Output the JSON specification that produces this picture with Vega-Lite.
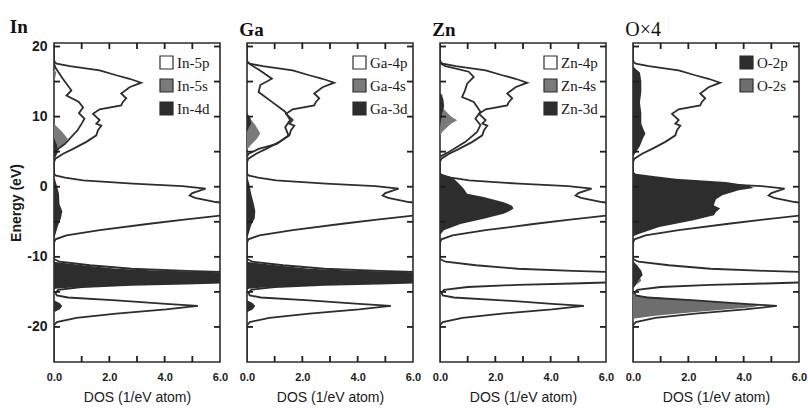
{
"$schema": "https://vega.github.io/schema/vega-lite/v6.json",
"background": "white",
"padding": {"left": 8, "top": 16, "right": 2, "bottom": 2},
"spacing": 27,
"bounds": "flush",
"resolve": {"scale": {"color": "independent"}, "legend": {"color": "independent"}},
"config": {
  "view": {"stroke": "#2d2d2d", "strokeWidth": 1.6},
  "axis": {"domain": false, "grid": false, "labelFlush": false, "labelOverlap": false},
  "tick": {"color": "#1e1e1e", "thickness": 1.8, "opacity": 1},
  "legend": {"title": null, "symbolType": "square", "symbolSize": 169, "symbolStrokeColor": "#2d2d2d", "symbolStrokeWidth": 1.2, "labelFont": "Liberation Serif", "labelFontSize": 15, "labelColor": "#1a1a1a", "labelOffset": 3, "rowPadding": 4, "padding": 0, "symbolOpacity": 1},
  "title": {"anchor": "start", "font": "Liberation Serif", "fontSize": 19, "fontWeight": "bold", "offset": 3, "color": "#111111"}
},
"datasets": {
"xticks": [{"v":1},{"v":2},{"v":3},{"v":4},{"v":5}],
"yticks": [{"v":-20},{"v":-15},{"v":-10},{"v":-5},{"v":0},{"v":5},{"v":10},{"v":15},{"v":20}],
"total": [
{"E":20.5,"dos":0},{"E":18.2,"dos":0},{"E":17.8,"dos":0.02},{"E":17.55,"dos":0.1},{"E":17.2,"dos":0.57},{"E":16.6,"dos":1.65},{"E":15.9,"dos":2.25},{"E":15.4,"dos":2.73},{"E":14.84,"dos":3.15},{"E":14.2,"dos":2.73},{"E":13.3,"dos":2.43},{"E":12.6,"dos":2.61},{"E":12.1,"dos":2.49},{"E":11.6,"dos":2.43},{"E":11.05,"dos":1.65},{"E":10.4,"dos":1.41},{"E":9.5,"dos":1.65},{"E":9.0,"dos":1.53},{"E":8.7,"dos":1.71},{"E":8.05,"dos":1.59},{"E":7.33,"dos":1.53},{"E":6.4,"dos":1.17},{"E":5.4,"dos":0.69},{"E":4.7,"dos":0.33},{"E":4.0,"dos":0.05},{"E":3.5,"dos":0},
{"E":1.9,"dos":0},{"E":1.62,"dos":0.05},{"E":1.3,"dos":0.4},{"E":0.91,"dos":1.05},{"E":0.43,"dos":2.85},{"E":0.1,"dos":4.64},{"E":-0.28,"dos":5.48},{"E":-0.9,"dos":5.0},{"E":-1.25,"dos":4.9},{"E":-1.6,"dos":5.1},{"E":-2.18,"dos":5.85},{"E":-2.6,"dos":6.8},{"E":-3.0,"dos":7.5},{"E":-3.5,"dos":7.2},{"E":-3.85,"dos":6.6},{"E":-4.1,"dos":6.08},{"E":-4.7,"dos":4.7},{"E":-5.28,"dos":3.45},{"E":-6.2,"dos":1.65},{"E":-6.93,"dos":0.45},{"E":-7.5,"dos":0.05},{"E":-8.0,"dos":0},
{"E":-10.3,"dos":0},{"E":-10.7,"dos":0.2},{"E":-11.2,"dos":1.3},{"E":-11.7,"dos":2.8},{"E":-12.0,"dos":4.8},{"E":-12.2,"dos":6.5},{"E":-12.5,"dos":9},{"E":-12.9,"dos":8},{"E":-13.3,"dos":9},{"E":-13.6,"dos":6.5},{"E":-13.8,"dos":4.8},{"E":-14.0,"dos":2.8},{"E":-14.3,"dos":1.0},{"E":-14.7,"dos":0.15},{"E":-15.1,"dos":0.05},{"E":-15.5,"dos":0.1},{"E":-15.8,"dos":0.5},{"E":-16.2,"dos":2.25},{"E":-16.7,"dos":4.05},{"E":-17.0,"dos":5.2},{"E":-17.5,"dos":4.05},{"E":-18.1,"dos":2.25},{"E":-18.7,"dos":0.81},{"E":-19.3,"dos":0.1},{"E":-19.8,"dos":0},{"E":-25,"dos":0}
],
"pdos": [
{"orb":"In-5p","E":17.6,"dos":0},{"orb":"In-5p","E":17.0,"dos":0.05},{"orb":"In-5p","E":16.4,"dos":0.15},{"orb":"In-5p","E":15.5,"dos":0.3},{"orb":"In-5p","E":14.7,"dos":0.45},{"orb":"In-5p","E":13.75,"dos":0.63},{"orb":"In-5p","E":13.0,"dos":0.45},{"orb":"In-5p","E":12.1,"dos":0.9},{"orb":"In-5p","E":11.3,"dos":1.05},{"orb":"In-5p","E":10.5,"dos":0.9},{"orb":"In-5p","E":9.7,"dos":1.1},{"orb":"In-5p","E":9.0,"dos":1.0},{"orb":"In-5p","E":8.05,"dos":0.85},{"orb":"In-5p","E":6.85,"dos":0.57},{"orb":"In-5p","E":6.1,"dos":0.39},{"orb":"In-5p","E":5.4,"dos":0.15},{"orb":"In-5p","E":4.7,"dos":0.02},{"orb":"In-5p","E":4.2,"dos":0},

{"orb":"In-5s","E":20.5,"dos":0},{"orb":"In-5s","E":16.8,"dos":0},{"orb":"In-5s","E":16.3,"dos":0.08},{"orb":"In-5s","E":15.6,"dos":0.05},{"orb":"In-5s","E":15.0,"dos":0},{"orb":"In-5s","E":9.0,"dos":0},{"orb":"In-5s","E":8.6,"dos":0.1},{"orb":"In-5s","E":7.8,"dos":0.3},{"orb":"In-5s","E":6.85,"dos":0.5},{"orb":"In-5s","E":6.3,"dos":0.4},{"orb":"In-5s","E":5.5,"dos":0.2},{"orb":"In-5s","E":4.6,"dos":0.08},{"orb":"In-5s","E":4.0,"dos":0},{"orb":"In-5s","E":1.5,"dos":0},{"orb":"In-5s","E":0,"dos":0.05},{"orb":"In-5s","E":-2,"dos":0.1},{"orb":"In-5s","E":-4,"dos":0.15},{"orb":"In-5s","E":-6,"dos":0.08},{"orb":"In-5s","E":-7.5,"dos":0},{"orb":"In-5s","E":-11,"dos":0},{"orb":"In-5s","E":-12.5,"dos":0.15},{"orb":"In-5s","E":-14,"dos":0.1},{"orb":"In-5s","E":-15,"dos":0},{"orb":"In-5s","E":-25,"dos":0},

{"orb":"In-4d","E":20.5,"dos":0},{"orb":"In-4d","E":7,"dos":0},{"orb":"In-4d","E":6,"dos":0.1},{"orb":"In-4d","E":5,"dos":0.15},{"orb":"In-4d","E":4.2,"dos":0.05},{"orb":"In-4d","E":3.8,"dos":0},{"orb":"In-4d","E":1.5,"dos":0},{"orb":"In-4d","E":0.5,"dos":0.08},{"orb":"In-4d","E":-1,"dos":0.18},{"orb":"In-4d","E":-2.5,"dos":0.2},{"orb":"In-4d","E":-3.5,"dos":0.3},{"orb":"In-4d","E":-4.5,"dos":0.25},{"orb":"In-4d","E":-5.5,"dos":0.15},{"orb":"In-4d","E":-6.8,"dos":0.05},{"orb":"In-4d","E":-7.5,"dos":0},{"orb":"In-4d","E":-10.5,"dos":0},{"orb":"In-4d","E":-10.74,"dos":0.05},{"orb":"In-4d","E":-11.2,"dos":1.05},{"orb":"In-4d","E":-11.7,"dos":2.25},{"orb":"In-4d","E":-11.9,"dos":3.45},{"orb":"In-4d","E":-12.07,"dos":4.64},{"orb":"In-4d","E":-12.2,"dos":6.2},{"orb":"In-4d","E":-12.5,"dos":8},{"orb":"In-4d","E":-12.9,"dos":7},{"orb":"In-4d","E":-13.3,"dos":8},{"orb":"In-4d","E":-13.7,"dos":6.2},{"orb":"In-4d","E":-13.84,"dos":4.64},{"orb":"In-4d","E":-13.93,"dos":3.45},{"orb":"In-4d","E":-14.07,"dos":2.25},{"orb":"In-4d","E":-14.26,"dos":1.05},{"orb":"In-4d","E":-14.55,"dos":0.05},{"orb":"In-4d","E":-14.8,"dos":0},{"orb":"In-4d","E":-16.2,"dos":0},{"orb":"In-4d","E":-16.6,"dos":0.2},{"orb":"In-4d","E":-17.0,"dos":0.3},{"orb":"In-4d","E":-17.5,"dos":0.2},{"orb":"In-4d","E":-17.9,"dos":0},{"orb":"In-4d","E":-25,"dos":0},

{"orb":"Ga-4p","E":17.9,"dos":0},{"orb":"Ga-4p","E":17.7,"dos":0.02},{"orb":"Ga-4p","E":16.5,"dos":0.5},{"orb":"Ga-4p","E":15.4,"dos":0.9},{"orb":"Ga-4p","E":14.5,"dos":0.48},{"orb":"Ga-4p","E":13.5,"dos":0.42},{"orb":"Ga-4p","E":12.1,"dos":0.9},{"orb":"Ga-4p","E":10.7,"dos":1.38},{"orb":"Ga-4p","E":9.5,"dos":1.56},{"orb":"Ga-4p","E":8.5,"dos":1.38},{"orb":"Ga-4p","E":7.3,"dos":1.5},{"orb":"Ga-4p","E":6.1,"dos":1.08},{"orb":"Ga-4p","E":5.4,"dos":0.42},{"orb":"Ga-4p","E":4.7,"dos":0.06},{"orb":"Ga-4p","E":4.3,"dos":0},

{"orb":"Ga-4s","E":20.5,"dos":0},{"orb":"Ga-4s","E":10.5,"dos":0},{"orb":"Ga-4s","E":9.8,"dos":0.1},{"orb":"Ga-4s","E":8.8,"dos":0.3},{"orb":"Ga-4s","E":7.6,"dos":0.48},{"orb":"Ga-4s","E":6.8,"dos":0.35},{"orb":"Ga-4s","E":6.0,"dos":0.15},{"orb":"Ga-4s","E":5.3,"dos":0},{"orb":"Ga-4s","E":1.5,"dos":0},{"orb":"Ga-4s","E":0,"dos":0.05},{"orb":"Ga-4s","E":-2,"dos":0.1},{"orb":"Ga-4s","E":-4,"dos":0.15},{"orb":"Ga-4s","E":-6,"dos":0.08},{"orb":"Ga-4s","E":-7.5,"dos":0},{"orb":"Ga-4s","E":-11,"dos":0},{"orb":"Ga-4s","E":-12.5,"dos":0.15},{"orb":"Ga-4s","E":-14,"dos":0.1},{"orb":"Ga-4s","E":-15,"dos":0},{"orb":"Ga-4s","E":-25,"dos":0},

{"orb":"Ga-3d","E":20.5,"dos":0},{"orb":"Ga-3d","E":10.5,"dos":0},{"orb":"Ga-3d","E":9.8,"dos":0.12},{"orb":"Ga-3d","E":9.0,"dos":0.15},{"orb":"Ga-3d","E":8.3,"dos":0.05},{"orb":"Ga-3d","E":7.8,"dos":0},{"orb":"Ga-3d","E":1.5,"dos":0},{"orb":"Ga-3d","E":0.5,"dos":0.08},{"orb":"Ga-3d","E":-1,"dos":0.15},{"orb":"Ga-3d","E":-2.5,"dos":0.25},{"orb":"Ga-3d","E":-3.5,"dos":0.3},{"orb":"Ga-3d","E":-4.5,"dos":0.28},{"orb":"Ga-3d","E":-5.5,"dos":0.15},{"orb":"Ga-3d","E":-6.8,"dos":0.05},{"orb":"Ga-3d","E":-7.5,"dos":0},{"orb":"Ga-3d","E":-10.5,"dos":0},{"orb":"Ga-3d","E":-10.74,"dos":0.05},{"orb":"Ga-3d","E":-11.2,"dos":1.05},{"orb":"Ga-3d","E":-11.7,"dos":2.25},{"orb":"Ga-3d","E":-11.9,"dos":3.45},{"orb":"Ga-3d","E":-12.07,"dos":4.64},{"orb":"Ga-3d","E":-12.2,"dos":6.2},{"orb":"Ga-3d","E":-12.5,"dos":8},{"orb":"Ga-3d","E":-12.9,"dos":7},{"orb":"Ga-3d","E":-13.3,"dos":8},{"orb":"Ga-3d","E":-13.7,"dos":6.2},{"orb":"Ga-3d","E":-13.84,"dos":4.64},{"orb":"Ga-3d","E":-13.93,"dos":3.45},{"orb":"Ga-3d","E":-14.07,"dos":2.25},{"orb":"Ga-3d","E":-14.26,"dos":1.05},{"orb":"Ga-3d","E":-14.55,"dos":0.05},{"orb":"Ga-3d","E":-14.8,"dos":0},{"orb":"Ga-3d","E":-16.2,"dos":0},{"orb":"Ga-3d","E":-16.6,"dos":0.2},{"orb":"Ga-3d","E":-17.0,"dos":0.3},{"orb":"Ga-3d","E":-17.5,"dos":0.2},{"orb":"Ga-3d","E":-17.9,"dos":0},{"orb":"Ga-3d","E":-25,"dos":0},

{"orb":"Zn-4p","E":17.6,"dos":0},{"orb":"Zn-4p","E":17.2,"dos":0.2},{"orb":"Zn-4p","E":16.4,"dos":1.04},{"orb":"Zn-4p","E":15.65,"dos":1.22},{"orb":"Zn-4p","E":14.7,"dos":0.98},{"orb":"Zn-4p","E":13.7,"dos":0.9},{"orb":"Zn-4p","E":12.8,"dos":0.8},{"orb":"Zn-4p","E":12.1,"dos":1.22},{"orb":"Zn-4p","E":10.7,"dos":1.46},{"orb":"Zn-4p","E":9.7,"dos":1.28},{"orb":"Zn-4p","E":8.8,"dos":1.46},{"orb":"Zn-4p","E":7.8,"dos":1.34},{"orb":"Zn-4p","E":6.4,"dos":0.92},{"orb":"Zn-4p","E":4.95,"dos":0.32},{"orb":"Zn-4p","E":4.3,"dos":0},

{"orb":"Zn-4s","E":20.5,"dos":0},{"orb":"Zn-4s","E":13.5,"dos":0},{"orb":"Zn-4s","E":13.0,"dos":0.1},{"orb":"Zn-4s","E":12.3,"dos":0.05},{"orb":"Zn-4s","E":11,"dos":0.15},{"orb":"Zn-4s","E":10,"dos":0.4},{"orb":"Zn-4s","E":9.47,"dos":0.62},{"orb":"Zn-4s","E":9.0,"dos":0.4},{"orb":"Zn-4s","E":8.0,"dos":0.12},{"orb":"Zn-4s","E":7.3,"dos":0},{"orb":"Zn-4s","E":-25,"dos":0},

{"orb":"Zn-3d","E":20.5,"dos":0},{"orb":"Zn-3d","E":13.5,"dos":0},{"orb":"Zn-3d","E":12.5,"dos":0.12},{"orb":"Zn-3d","E":11.5,"dos":0.15},{"orb":"Zn-3d","E":10.5,"dos":0.08},{"orb":"Zn-3d","E":9.5,"dos":0.04},{"orb":"Zn-3d","E":8.5,"dos":0},{"orb":"Zn-3d","E":2.2,"dos":0},{"orb":"Zn-3d","E":1.86,"dos":0.05},{"orb":"Zn-3d","E":1.5,"dos":0.3},{"orb":"Zn-3d","E":1.14,"dos":0.5},{"orb":"Zn-3d","E":0.4,"dos":0.7},{"orb":"Zn-3d","E":-0.28,"dos":0.86},{"orb":"Zn-3d","E":-1.0,"dos":0.98},{"orb":"Zn-3d","E":-1.48,"dos":1.58},{"orb":"Zn-3d","E":-2.2,"dos":2.3},{"orb":"Zn-3d","E":-2.7,"dos":2.6},{"orb":"Zn-3d","E":-3.1,"dos":2.66},{"orb":"Zn-3d","E":-3.5,"dos":2.5},{"orb":"Zn-3d","E":-3.85,"dos":2.3},{"orb":"Zn-3d","E":-4.56,"dos":1.58},{"orb":"Zn-3d","E":-5.3,"dos":0.74},{"orb":"Zn-3d","E":-6.2,"dos":0.14},{"orb":"Zn-3d","E":-6.9,"dos":0},{"orb":"Zn-3d","E":-25,"dos":0},

{"orb":"O-2s","E":20.5,"dos":0},{"orb":"O-2s","E":-12.3,"dos":0},{"orb":"O-2s","E":-12.9,"dos":0.25},{"orb":"O-2s","E":-13.4,"dos":0.3},{"orb":"O-2s","E":-14.0,"dos":0.1},{"orb":"O-2s","E":-14.5,"dos":0},{"orb":"O-2s","E":-15.3,"dos":0},{"orb":"O-2s","E":-15.5,"dos":0.05},{"orb":"O-2s","E":-16.2,"dos":2.15},{"orb":"O-2s","E":-16.8,"dos":4.3},{"orb":"O-2s","E":-16.95,"dos":4.6},{"orb":"O-2s","E":-17.2,"dos":4.3},{"orb":"O-2s","E":-17.9,"dos":2.15},{"orb":"O-2s","E":-18.4,"dos":0.8},{"orb":"O-2s","E":-18.8,"dos":0.05},{"orb":"O-2s","E":-19.3,"dos":0},{"orb":"O-2s","E":-25,"dos":0},

{"orb":"O-2p","E":20.5,"dos":0},{"orb":"O-2p","E":17.2,"dos":0},{"orb":"O-2p","E":16.8,"dos":0.1},{"orb":"O-2p","E":16.3,"dos":0.25},{"orb":"O-2p","E":15,"dos":0.3},{"orb":"O-2p","E":13.5,"dos":0.3},{"orb":"O-2p","E":12,"dos":0.25},{"orb":"O-2p","E":10.5,"dos":0.3},{"orb":"O-2p","E":9,"dos":0.3},{"orb":"O-2p","E":8,"dos":0.4},{"orb":"O-2p","E":7.6,"dos":0.45},{"orb":"O-2p","E":6.8,"dos":0.35},{"orb":"O-2p","E":5.8,"dos":0.25},{"orb":"O-2p","E":5,"dos":0.12},{"orb":"O-2p","E":4.3,"dos":0},{"orb":"O-2p","E":2.2,"dos":0},{"orb":"O-2p","E":1.86,"dos":0.1},{"orb":"O-2p","E":1.5,"dos":0.8},{"orb":"O-2p","E":1.14,"dos":1.55},{"orb":"O-2p","E":0.66,"dos":3.35},{"orb":"O-2p","E":0.19,"dos":4.18},{"orb":"O-2p","E":-0.19,"dos":4.36},{"orb":"O-2p","E":-0.51,"dos":3.82},{"orb":"O-2p","E":-1.23,"dos":3.23},{"orb":"O-2p","E":-1.8,"dos":3.0},{"orb":"O-2p","E":-2.3,"dos":2.95},{"orb":"O-2p","E":-2.65,"dos":2.92},{"orb":"O-2p","E":-3.1,"dos":3.15},{"orb":"O-2p","E":-3.6,"dos":3.0},{"orb":"O-2p","E":-4.08,"dos":2.93},{"orb":"O-2p","E":-4.8,"dos":2.15},{"orb":"O-2p","E":-5.75,"dos":0.95},{"orb":"O-2p","E":-6.7,"dos":0.23},{"orb":"O-2p","E":-7.1,"dos":0},{"orb":"O-2p","E":-10.6,"dos":0},{"orb":"O-2p","E":-11.2,"dos":0.15},{"orb":"O-2p","E":-12.0,"dos":0.3},{"orb":"O-2p","E":-12.6,"dos":0.35},{"orb":"O-2p","E":-13.3,"dos":0.2},{"orb":"O-2p","E":-14.0,"dos":0.1},{"orb":"O-2p","E":-14.5,"dos":0},{"orb":"O-2p","E":-25,"dos":0}
]
},
"hconcat": [
{
  "width": 166, "height": 319,
  "title": {"text": "In"},
  "layer": [
    {"data": {"name": "pdos"}, "transform": [{"filter": "datum.orb == 'In-5s'"}],
     "mark": {"type": "area", "orient": "horizontal", "clip": true},
     "encoding": {
       "x": {"field": "dos", "type": "quantitative", "stack": null, "scale": {"domain": [0, 6], "nice": false},
             "axis": {"orient": "bottom", "values": [0,2,4,6], "format": ".1f", "ticks": false, "labelPadding": 9, "labelFont": "Liberation Sans", "labelFontSize": 11, "labelFontWeight": "bold", "labelColor": "#1a1a1a", "title": "DOS (1/eV atom)", "titleFont": "Liberation Sans", "titleFontSize": 14, "titleFontWeight": "normal", "titleColor": "#1a1a1a", "titlePadding": 8}},
       "y": {"field": "E", "type": "quantitative", "scale": {"domain": [-25, 20.5], "nice": false, "zero": false},
             "axis": {"orient": "left", "values": [-20,-10,0,10,20], "labelExpr": "'' + datum.value", "ticks": false, "labelPadding": 7, "labelFont": "Liberation Sans", "labelFontSize": 14, "labelFontWeight": "bold", "labelColor": "#1a1a1a", "title": "Energy  (eV)", "titleFont": "Liberation Sans", "titleFontSize": 14, "titleFontWeight": "bold", "titleColor": "#1a1a1a", "titlePadding": 3}},
       "color": {"field": "orb", "type": "nominal", "scale": {"domain": ["In-5p", "In-5s", "In-4d"], "range": ["#ffffff", "#7a7a7a", "#2d2d2d"]},
                 "legend": {"orient": "none", "legendX": 105, "legendY": 12}}
     }},
    {"data": {"name": "pdos"}, "transform": [{"filter": "datum.orb == 'In-4d'"}],
     "mark": {"type": "area", "orient": "horizontal", "clip": true},
     "encoding": {
       "x": {"field": "dos", "type": "quantitative", "stack": null},
       "y": {"field": "E", "type": "quantitative"},
       "color": {"field": "orb", "type": "nominal"}
     }},
    {"data": {"name": "total"},
     "mark": {"type": "line", "clip": true, "color": "#2d2d2d", "strokeWidth": 1.8},
     "encoding": {
       "x": {"field": "dos", "type": "quantitative"},
       "y": {"field": "E", "type": "quantitative"},
       "order": {"field": "E", "type": "quantitative"}
     }},
    {"data": {"name": "pdos"}, "transform": [{"filter": "datum.orb == 'In-5p'"}],
     "mark": {"type": "line", "clip": true, "color": "#2d2d2d", "strokeWidth": 1.8},
     "encoding": {
       "x": {"field": "dos", "type": "quantitative"},
       "y": {"field": "E", "type": "quantitative"},
       "order": {"field": "E", "type": "quantitative"}
     }},
    {"data": {"name": "yticks"}, "mark": {"type": "tick", "orient": "horizontal", "size": 6, "xOffset": 3},
     "encoding": {"y": {"field": "v", "type": "quantitative"}, "x": {"datum": 0, "type": "quantitative"}}},
    {"data": {"name": "yticks"}, "mark": {"type": "tick", "orient": "horizontal", "size": 6, "xOffset": -3},
     "encoding": {"y": {"field": "v", "type": "quantitative"}, "x": {"datum": 6, "type": "quantitative"}}},
    {"data": {"name": "xticks"}, "mark": {"type": "tick", "orient": "vertical", "size": 6, "yOffset": 3},
     "encoding": {"x": {"field": "v", "type": "quantitative"}, "y": {"datum": 20.5, "type": "quantitative"}}},
    {"data": {"name": "xticks"}, "mark": {"type": "tick", "orient": "vertical", "size": 6, "yOffset": -3},
     "encoding": {"x": {"field": "v", "type": "quantitative"}, "y": {"datum": -25, "type": "quantitative"}}}
  ]
},
{
  "width": 166, "height": 319,
  "title": {"text": "Ga"},
  "layer": [
    {"data": {"name": "pdos"}, "transform": [{"filter": "datum.orb == 'Ga-4s'"}],
     "mark": {"type": "area", "orient": "horizontal", "clip": true},
     "encoding": {
       "x": {"field": "dos", "type": "quantitative", "stack": null, "scale": {"domain": [0, 6], "nice": false},
             "axis": {"orient": "bottom", "values": [0,2,4,6], "format": ".1f", "ticks": false, "labelPadding": 9, "labelFont": "Liberation Sans", "labelFontSize": 11, "labelFontWeight": "bold", "labelColor": "#1a1a1a", "title": "DOS (1/eV atom)", "titleFont": "Liberation Sans", "titleFontSize": 14, "titleFontWeight": "normal", "titleColor": "#1a1a1a", "titlePadding": 8}},
       "y": {"field": "E", "type": "quantitative", "scale": {"domain": [-25, 20.5], "nice": false, "zero": false}, "axis": null},
       "color": {"field": "orb", "type": "nominal", "scale": {"domain": ["Ga-4p", "Ga-4s", "Ga-3d"], "range": ["#ffffff", "#7a7a7a", "#2d2d2d"]},
                 "legend": {"orient": "none", "legendX": 105, "legendY": 12}}
     }},
    {"data": {"name": "pdos"}, "transform": [{"filter": "datum.orb == 'Ga-3d'"}],
     "mark": {"type": "area", "orient": "horizontal", "clip": true},
     "encoding": {
       "x": {"field": "dos", "type": "quantitative", "stack": null},
       "y": {"field": "E", "type": "quantitative", "axis": null},
       "color": {"field": "orb", "type": "nominal"}
     }},
    {"data": {"name": "total"},
     "mark": {"type": "line", "clip": true, "color": "#2d2d2d", "strokeWidth": 1.8},
     "encoding": {
       "x": {"field": "dos", "type": "quantitative"},
       "y": {"field": "E", "type": "quantitative", "axis": null},
       "order": {"field": "E", "type": "quantitative"}
     }},
    {"data": {"name": "pdos"}, "transform": [{"filter": "datum.orb == 'Ga-4p'"}],
     "mark": {"type": "line", "clip": true, "color": "#2d2d2d", "strokeWidth": 1.8},
     "encoding": {
       "x": {"field": "dos", "type": "quantitative"},
       "y": {"field": "E", "type": "quantitative", "axis": null},
       "order": {"field": "E", "type": "quantitative"}
     }},
    {"data": {"name": "yticks"}, "mark": {"type": "tick", "orient": "horizontal", "size": 6, "xOffset": 3},
     "encoding": {"y": {"field": "v", "type": "quantitative", "axis": null}, "x": {"datum": 0, "type": "quantitative"}}},
    {"data": {"name": "yticks"}, "mark": {"type": "tick", "orient": "horizontal", "size": 6, "xOffset": -3},
     "encoding": {"y": {"field": "v", "type": "quantitative", "axis": null}, "x": {"datum": 6, "type": "quantitative"}}},
    {"data": {"name": "xticks"}, "mark": {"type": "tick", "orient": "vertical", "size": 6, "yOffset": 3},
     "encoding": {"x": {"field": "v", "type": "quantitative"}, "y": {"datum": 20.5, "type": "quantitative", "axis": null}}},
    {"data": {"name": "xticks"}, "mark": {"type": "tick", "orient": "vertical", "size": 6, "yOffset": -3},
     "encoding": {"x": {"field": "v", "type": "quantitative"}, "y": {"datum": -25, "type": "quantitative", "axis": null}}}
  ]
},
{
  "width": 166, "height": 319,
  "title": {"text": "Zn"},
  "layer": [
    {"data": {"name": "pdos"}, "transform": [{"filter": "datum.orb == 'Zn-4s'"}],
     "mark": {"type": "area", "orient": "horizontal", "clip": true},
     "encoding": {
       "x": {"field": "dos", "type": "quantitative", "stack": null, "scale": {"domain": [0, 6], "nice": false},
             "axis": {"orient": "bottom", "values": [0,2,4,6], "format": ".1f", "ticks": false, "labelPadding": 9, "labelFont": "Liberation Sans", "labelFontSize": 11, "labelFontWeight": "bold", "labelColor": "#1a1a1a", "title": "DOS (1/eV atom)", "titleFont": "Liberation Sans", "titleFontSize": 14, "titleFontWeight": "normal", "titleColor": "#1a1a1a", "titlePadding": 8}},
       "y": {"field": "E", "type": "quantitative", "scale": {"domain": [-25, 20.5], "nice": false, "zero": false}, "axis": null},
       "color": {"field": "orb", "type": "nominal", "scale": {"domain": ["Zn-4p", "Zn-4s", "Zn-3d"], "range": ["#ffffff", "#7a7a7a", "#2d2d2d"]},
                 "legend": {"orient": "none", "legendX": 103, "legendY": 12}}
     }},
    {"data": {"name": "pdos"}, "transform": [{"filter": "datum.orb == 'Zn-3d'"}],
     "mark": {"type": "area", "orient": "horizontal", "clip": true},
     "encoding": {
       "x": {"field": "dos", "type": "quantitative", "stack": null},
       "y": {"field": "E", "type": "quantitative", "axis": null},
       "color": {"field": "orb", "type": "nominal"}
     }},
    {"data": {"name": "total"},
     "mark": {"type": "line", "clip": true, "color": "#2d2d2d", "strokeWidth": 1.8},
     "encoding": {
       "x": {"field": "dos", "type": "quantitative"},
       "y": {"field": "E", "type": "quantitative", "axis": null},
       "order": {"field": "E", "type": "quantitative"}
     }},
    {"data": {"name": "pdos"}, "transform": [{"filter": "datum.orb == 'Zn-4p'"}],
     "mark": {"type": "line", "clip": true, "color": "#2d2d2d", "strokeWidth": 1.8},
     "encoding": {
       "x": {"field": "dos", "type": "quantitative"},
       "y": {"field": "E", "type": "quantitative", "axis": null},
       "order": {"field": "E", "type": "quantitative"}
     }},
    {"data": {"name": "yticks"}, "mark": {"type": "tick", "orient": "horizontal", "size": 6, "xOffset": 3},
     "encoding": {"y": {"field": "v", "type": "quantitative", "axis": null}, "x": {"datum": 0, "type": "quantitative"}}},
    {"data": {"name": "yticks"}, "mark": {"type": "tick", "orient": "horizontal", "size": 6, "xOffset": -3},
     "encoding": {"y": {"field": "v", "type": "quantitative", "axis": null}, "x": {"datum": 6, "type": "quantitative"}}},
    {"data": {"name": "xticks"}, "mark": {"type": "tick", "orient": "vertical", "size": 6, "yOffset": 3},
     "encoding": {"x": {"field": "v", "type": "quantitative"}, "y": {"datum": 20.5, "type": "quantitative", "axis": null}}},
    {"data": {"name": "xticks"}, "mark": {"type": "tick", "orient": "vertical", "size": 6, "yOffset": -3},
     "encoding": {"x": {"field": "v", "type": "quantitative"}, "y": {"datum": -25, "type": "quantitative", "axis": null}}}
  ]
},
{
  "width": 166, "height": 319,
  "title": {"text": "O×4", "fontWeight": "normal", "fontSize": 20},
  "layer": [
    {"data": {"name": "pdos"}, "transform": [{"filter": "datum.orb == 'O-2s'"}],
     "mark": {"type": "area", "orient": "horizontal", "clip": true},
     "encoding": {
       "x": {"field": "dos", "type": "quantitative", "stack": null, "scale": {"domain": [0, 6], "nice": false},
             "axis": {"orient": "bottom", "values": [0,2,4,6], "format": ".1f", "ticks": false, "labelPadding": 9, "labelFont": "Liberation Sans", "labelFontSize": 11, "labelFontWeight": "bold", "labelColor": "#1a1a1a", "title": "DOS (1/eV atom)", "titleFont": "Liberation Sans", "titleFontSize": 14, "titleFontWeight": "normal", "titleColor": "#1a1a1a", "titlePadding": 8}},
       "y": {"field": "E", "type": "quantitative", "scale": {"domain": [-25, 20.5], "nice": false, "zero": false}, "axis": null},
       "color": {"field": "orb", "type": "nominal", "scale": {"domain": ["O-2p", "O-2s"], "range": ["#2d2d2d", "#6e6e6e"]},
                 "legend": {"orient": "none", "legendX": 106, "legendY": 12}}
     }},
    {"data": {"name": "pdos"}, "transform": [{"filter": "datum.orb == 'O-2p'"}],
     "mark": {"type": "area", "orient": "horizontal", "clip": true},
     "encoding": {
       "x": {"field": "dos", "type": "quantitative", "stack": null},
       "y": {"field": "E", "type": "quantitative", "axis": null},
       "color": {"field": "orb", "type": "nominal"}
     }},
    {"data": {"name": "total"},
     "mark": {"type": "line", "clip": true, "color": "#2d2d2d", "strokeWidth": 1.8},
     "encoding": {
       "x": {"field": "dos", "type": "quantitative"},
       "y": {"field": "E", "type": "quantitative", "axis": null},
       "order": {"field": "E", "type": "quantitative"}
     }},
    {"data": {"name": "yticks"}, "mark": {"type": "tick", "orient": "horizontal", "size": 6, "xOffset": 3},
     "encoding": {"y": {"field": "v", "type": "quantitative", "axis": null}, "x": {"datum": 0, "type": "quantitative"}}},
    {"data": {"name": "yticks"}, "mark": {"type": "tick", "orient": "horizontal", "size": 6, "xOffset": -3},
     "encoding": {"y": {"field": "v", "type": "quantitative", "axis": null}, "x": {"datum": 6, "type": "quantitative"}}},
    {"data": {"name": "xticks"}, "mark": {"type": "tick", "orient": "vertical", "size": 6, "yOffset": 3},
     "encoding": {"x": {"field": "v", "type": "quantitative"}, "y": {"datum": 20.5, "type": "quantitative", "axis": null}}},
    {"data": {"name": "xticks"}, "mark": {"type": "tick", "orient": "vertical", "size": 6, "yOffset": -3},
     "encoding": {"x": {"field": "v", "type": "quantitative"}, "y": {"datum": -25, "type": "quantitative", "axis": null}}}
  ]
}
]
}
